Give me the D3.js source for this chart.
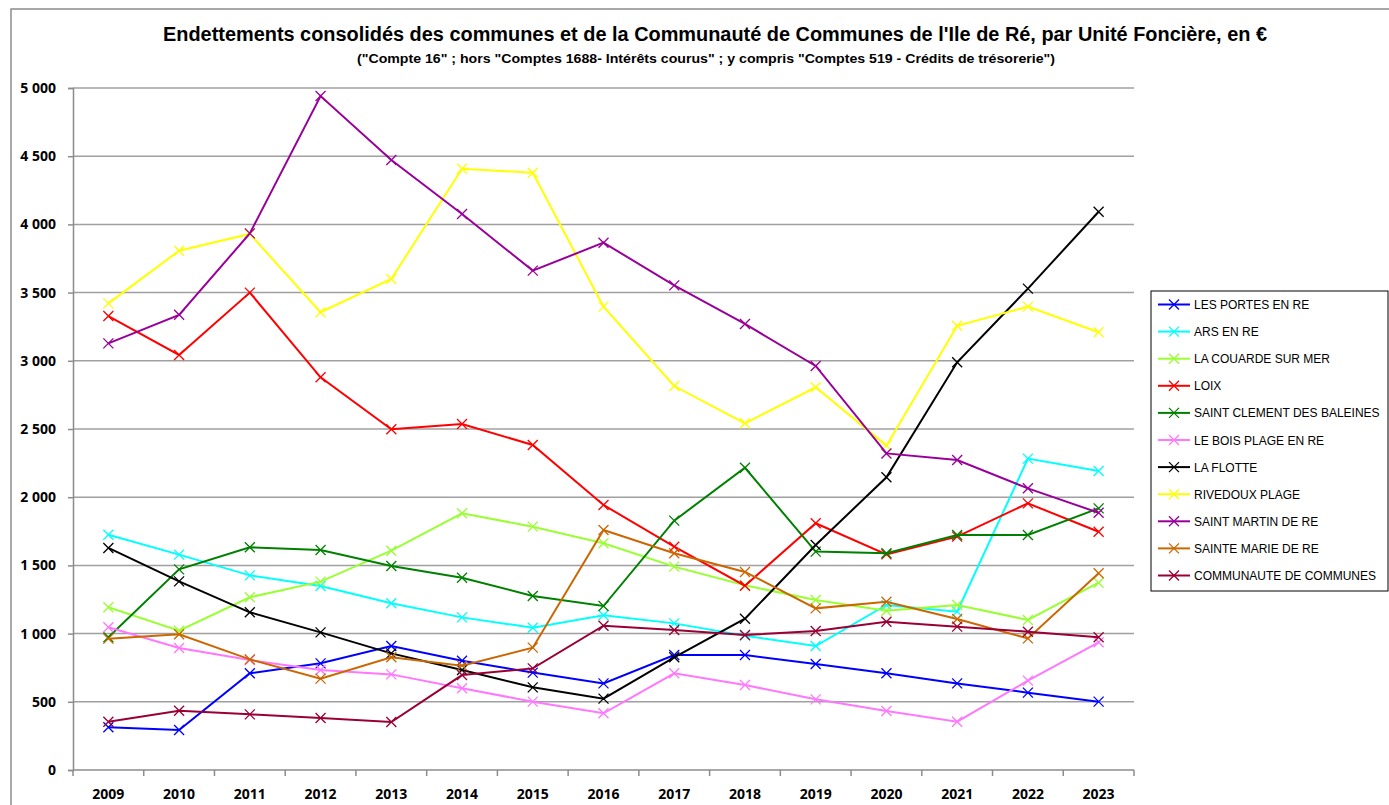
<!DOCTYPE html>
<html>
<head>
<meta charset="utf-8">
<script src="https://cdn.jsdelivr.net/npm/d3@7"></script>
<style>
  body { margin: 0; background: #fff; }
  svg text { font-family: "Liberation Sans Narrow", "Liberation Sans", Arial, sans-serif; }
  svg text.axislabel { font-family: "Open Sans", "DejaVu Sans", sans-serif; font-size: 14px; font-weight: bold; }
</style>
</head>
<body>
<div class="chart"></div>
<script>
// chart size
var svgWidth = 1389;
var svgHeight = 805;

var margin = { top: 88, right: 255, bottom: 35, left: 73 };
var width = 1134 - margin.left;
var height = 770 - margin.top;

// data
var years = ["2009", "2010", "2011", "2012", "2013", "2014", "2015", "2016", "2017", "2018", "2019", "2020", "2021", "2022", "2023"];
var yTicks = [0, 500, 1000, 1500, 2000, 2500, 3000, 3500, 4000, 4500, 5000];

var lesPortes     = [313, 293, 709, 782, 909, 801, 714, 635, 843, 843, 777, 709, 635, 567, 501];
var arsEnRe       = [1725, 1579, 1427, 1349, 1222, 1119, 1043, 1134, 1075, 985, 909, 1210, 1161, 2283, 2192];
var laCouarde     = [1193, 1021, 1266, 1381, 1608, 1882, 1784, 1662, 1491, 1354, 1246, 1168, 1210, 1100, 1373];
var loix          = [3328, 3043, 3500, 2879, 2498, 2537, 2383, 1943, 1637, 1351, 1809, 1581, 1711, 1955, 1747];
var saintClement  = [973, 1471, 1633, 1613, 1496, 1410, 1276, 1202, 1828, 2216, 1601, 1589, 1723, 1723, 1918];
var leBoisPlage   = [1046, 894, 806, 733, 701, 599, 501, 416, 709, 623, 518, 433, 354, 655, 936];
var laFlotte      = [1628, 1383, 1156, 1009, 855, 733, 606, 523, 826, 1109, 1650, 2146, 2989, 3529, 4093];
var rivedoux      = [3421, 3807, 3930, 3356, 3600, 4408, 4379, 3397, 2815, 2542, 2806, 2378, 3257, 3397, 3209];
var saintMartin   = [3128, 3337, 3934, 4941, 4472, 4076, 3661, 3866, 3553, 3270, 2962, 2321, 2273, 2065, 1886];
var sainteMarie   = [963, 995, 811, 670, 826, 765, 897, 1760, 1589, 1452, 1185, 1234, 1107, 965, 1442];
var communaute    = [354, 435, 408, 381, 352, 696, 745, 1058, 1026, 990, 1019, 1087, 1051, 1014, 973];

var seriesNames = ["LES PORTES EN RE", "ARS EN RE", "LA COUARDE SUR MER", "LOIX",
  "SAINT CLEMENT DES BALEINES", "LE BOIS PLAGE EN RE", "LA FLOTTE", "RIVEDOUX PLAGE",
  "SAINT MARTIN DE RE", "SAINTE MARIE DE RE", "COMMUNAUTE DE COMMUNES"];
var seriesValues = [lesPortes, arsEnRe, laCouarde, loix, saintClement, leBoisPlage,
  laFlotte, rivedoux, saintMartin, sainteMarie, communaute];
var seriesColors = ["#0000ff", "#00ffff", "#99ff33", "#ff0000", "#008000", "#ff77ff",
  "#000000", "#ffff00", "#990099", "#cc6600", "#990033"];

var series = seriesNames.map(function(name, i) {
  return { name: name, color: seriesColors[i], values: seriesValues[i] };
});

var svg = d3.select(".chart")
  .append("svg")
  .attr("width", svgWidth)
  .attr("height", svgHeight);

// outer chart frame (only top and left edges visible)
svg.append("path")
  .attr("d", "M11,805 V9 H1389")
  .attr("fill", "none")
  .attr("stroke", "#8c8c8c")
  .attr("stroke-width", 1.5);

// titles
svg.append("text")
  .attr("x", 715).attr("y", 41)
  .attr("text-anchor", "middle")
  .attr("font-size", 20).attr("font-weight", "bold")
  .attr("textLength", 1104).attr("lengthAdjust", "spacingAndGlyphs")
  .text("Endettements consolidés des communes et de la Communauté de Communes de l'Ile de Ré, par Unité Foncière, en €");

svg.append("text")
  .attr("x", 706).attr("y", 63)
  .attr("text-anchor", "middle")
  .attr("font-size", 13).attr("font-weight", "bold")
  .attr("textLength", 698).attr("lengthAdjust", "spacingAndGlyphs")
  .text("(\"Compte 16\" ; hors \"Comptes 1688- Intérêts courus\" ; y compris \"Comptes 519 - Crédits de trésorerie\")");

var chartGroup = svg.append("g")
  .attr("transform", `translate(${margin.left}, ${margin.top})`);

// scales
var xBand = d3.scaleBand().domain(years).range([0, width]);
var xScale = function(y) { return xBand(y) + xBand.bandwidth() / 2; };
var yScale = d3.scaleLinear().domain([0, 5000]).range([height, 0]);

// gridlines
chartGroup.append("g")
  .selectAll("line")
  .data(yTicks.filter(function(d) { return d > 0; }))
  .enter()
  .append("line")
  .attr("x1", 0).attr("x2", width)
  .attr("y1", d => yScale(d)).attr("y2", d => yScale(d))
  .attr("stroke", "#a0a0a0")
  .attr("stroke-width", 1.5);

// y axis
var fmt = function(d) { return d3.format(",")(d).replace(",", " "); };
var yAxis = chartGroup.append("g")
  .call(d3.axisLeft(yScale).tickValues(yTicks).tickSize(5).tickPadding(12).tickFormat(fmt));
yAxis.select(".domain").attr("stroke", "#8c8c8c").attr("stroke-width", 1.5);
yAxis.selectAll(".tick line").attr("stroke", "#8c8c8c").attr("stroke-width", 1.5);
yAxis.selectAll("text")
  .attr("class", "axislabel")
  .attr("fill", "#000");

// x axis: ticks on band boundaries
var xAxis = chartGroup.append("g")
  .attr("transform", `translate(0, ${height})`);
xAxis.append("line")
  .attr("x1", 0).attr("x2", width)
  .attr("stroke", "#8c8c8c").attr("stroke-width", 1.5);
xAxis.selectAll(".xtick")
  .data(years.concat(["end"]))
  .enter()
  .append("line")
  .attr("x1", (d, i) => i * xBand.step()).attr("x2", (d, i) => i * xBand.step())
  .attr("y1", 0).attr("y2", 6)
  .attr("stroke", "#8c8c8c").attr("stroke-width", 1.5);
xAxis.selectAll(".xlabel")
  .data(years)
  .enter()
  .append("text")
  .attr("class", "axislabel")
  .attr("x", d => xScale(d)).attr("y", 29)
  .attr("text-anchor", "middle")
  .text(d => d);

// lines
var line = d3.line()
  .x((d, i) => xScale(years[i]))
  .y(d => yScale(d));

var seriesGroup = chartGroup.selectAll(".series")
  .data(series)
  .enter()
  .append("g");

seriesGroup.append("path")
  .attr("d", d => line(d.values))
  .attr("fill", "none")
  .attr("stroke", d => d.color)
  .attr("stroke-width", 2);

var mk = 5;
function crossPath(x, y) {
  return `M${x - mk},${y - mk}L${x + mk},${y + mk}M${x - mk},${y + mk}L${x + mk},${y - mk}`;
}

seriesGroup.each(function(s) {
  d3.select(this).selectAll(".mark")
    .data(s.values)
    .enter()
    .append("path")
    .attr("d", (d, i) => crossPath(xScale(years[i]), yScale(d)))
    .attr("stroke", s.color)
    .attr("stroke-width", 1.3)
    .attr("fill", "none");
});

// legend
var legend = svg.append("g");
legend.append("rect")
  .attr("x", 1151).attr("y", 291)
  .attr("width", 237).attr("height", 300)
  .attr("fill", "#fff")
  .attr("stroke", "#000").attr("stroke-width", 1);

var legendItems = legend.selectAll(".item")
  .data(series)
  .enter()
  .append("g")
  .attr("transform", (d, i) => `translate(0, ${304.5 + i * 27.1})`);

legendItems.append("line")
  .attr("x1", 1158).attr("x2", 1190)
  .attr("stroke", d => d.color).attr("stroke-width", 2);
legendItems.append("path")
  .attr("d", d => crossPath(1174, 0))
  .attr("stroke", d => d.color).attr("stroke-width", 1.3);
legendItems.append("text")
  .attr("x", 1194).attr("y", 4.5)
  .attr("font-size", 12)
  .text(d => d.name);
</script>
</body>
</html>
